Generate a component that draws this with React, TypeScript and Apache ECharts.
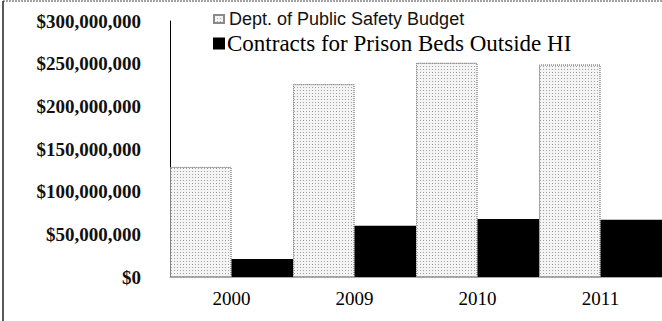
import React, { useEffect, useRef } from "react";
import * as echarts from "echarts";

const categories = ["2000", "2009", "2010", "2011"];
const budget = [129000000, 226000000, 251000000, 249000000];
const contracts = [21000000, 60000000, 68000000, 67000000];
const seriesNames = ["Dept. of Public Safety Budget", "Contracts for Prison Beds Outside HI"];

function fmt(v: number): string {
  return "$" + v.toLocaleString("en-US");
}

export default function App() {
  const ref = useRef<HTMLDivElement>(null);
  useEffect(() => {
    if (!ref.current) return;
    const chart = echarts.init(ref.current, undefined, { renderer: "svg" });
    chart.setOption({
      animation: false,
      backgroundColor: "#ffffff",
      grid: { left: 170, top: 21, bottom: 44, width: 504, containLabel: false },
      legend: [
        {
          data: [{ name: seriesNames[0] }],
          left: 208,
          top: 5,
          itemWidth: 10,
          itemHeight: 8,
          itemGap: 0,
          icon: "rect",
          textStyle: { fontFamily: "Liberation Sans, Arial, sans-serif", fontSize: 18, color: "#111", padding: [0, 0, 0, 0] },
        },
        {
          data: [{ name: seriesNames[1] }],
          left: 208,
          top: 27,
          itemWidth: 12,
          itemHeight: 12,
          icon: "rect",
          textStyle: { fontFamily: "Liberation Serif, Times New Roman, serif", fontSize: 23, color: "#000", padding: [0, 0, 0, -3] },
        },
      ],
      xAxis: {
        type: "category",
        data: categories,
        axisLine: { show: true, lineStyle: { color: "#aaa", width: 1 } },
        axisTick: { show: false },
        axisLabel: { fontFamily: "Liberation Serif, Times New Roman, serif", fontSize: 19, color: "#000", margin: 12 },
      },
      yAxis: {
        type: "value",
        min: 0,
        max: 300000000,
        interval: 50000000,
        axisLine: { show: true, lineStyle: { color: "#000", width: 1 } },
        axisTick: { show: false },
        splitLine: { show: false },
        axisLabel: {
          formatter: (v: number) => fmt(v),
          fontFamily: "Liberation Serif, Times New Roman, serif",
          fontSize: 19,
          fontWeight: "bold",
          color: "#111",
          margin: 29,
        },
      },
      series: [
        {
          name: seriesNames[0],
          type: "bar",
          data: budget,
          barGap: "0%",
          barCategoryGap: "0%",
          itemStyle: {
            color: "#f4f4f4",
            borderColor: "#8a8a8a",
            borderWidth: 1,
            borderType: "dotted",
            decal: {
              symbol: "rect",
              symbolSize: 1,
              color: "rgba(80,80,80,0.5)",
              dashArrayX: [1, 2],
              dashArrayY: [1, 2],
              rotation: 0,
            },
          },
        },
        {
          name: seriesNames[1],
          type: "bar",
          data: contracts,
          barGap: "0%",
          barCategoryGap: "0%",
          itemStyle: { color: "#000000" },
        },
      ],
      graphic: [
        { type: "line", shape: { x1: 3, y1: 1, x2: 662, y2: 1 }, style: { stroke: "#444", lineWidth: 1, lineDash: [2, 1] } },
        { type: "line", shape: { x1: 3, y1: 1, x2: 3, y2: 321 }, style: { stroke: "#222", lineWidth: 1.5 } },
      ],
    });
    return () => chart.dispose();
  }, []);
  return <div ref={ref} style={{ width: 662, height: 321, position: "absolute", left: 0, top: 0 }} />;
}
